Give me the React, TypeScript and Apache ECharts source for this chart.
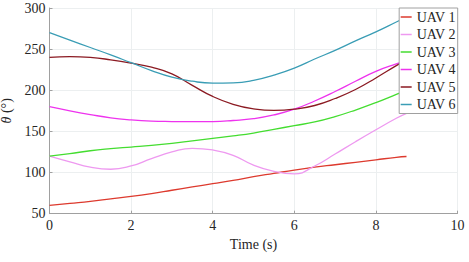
import React, { useEffect, useRef } from "react";
import * as echarts from "echarts";

const time = [0, 0.5, 1, 1.5, 2, 2.5, 3, 3.5, 4, 4.5, 5, 5.5, 6, 6.5, 7, 7.5, 8, 8.5, 8.75];
const uav1 = [60, 62.5, 65, 68, 71, 74.5, 78.5, 82.5, 86.5, 90.5, 95, 99, 103, 106.5, 109.5, 112.5, 115.5, 118.5, 119.5];
const uav2 = [120, 113, 106.5, 104, 108, 117, 125, 129.5, 127.5, 121, 109, 101.5, 98.5, 108, 122.5, 137.5, 152, 166, 172];
const uav3 = [120, 123, 126.5, 129, 131, 133, 135.5, 138.5, 141.5, 144.5, 148, 152.5, 157, 161.5, 168, 176, 185, 195, 200];
const uav4 = [180, 175, 170.5, 166.5, 164, 162.5, 162, 161.8, 162, 163.3, 165.5, 170, 177, 187, 198.5, 211, 223, 232, 236];
const uav5 = [240, 241, 240, 237, 233, 228, 220, 206, 192.5, 183, 177.5, 175.5, 177, 181.5, 190, 201, 215, 230, 237];
const uav6 = [270, 261, 252, 243, 233.5, 224, 216, 211, 208.7, 209, 212, 218.5, 227, 238, 248.5, 260, 271, 283, 289];

const names = ["UAV 1", "UAV 2", "UAV 3", "UAV 4", "UAV 5", "UAV 6"];
const colors = ["#dd3a2e", "#ee99f0", "#44dd30", "#ee33ee", "#8b1a22", "#3a9db5"];
const seriesValues = [uav1, uav2, uav3, uav4, uav5, uav6];

const FONT = "Liberation Serif";

export default function App() {
  const ref = useRef<HTMLDivElement>(null);
  useEffect(() => {
    if (!ref.current) return;
    const chart = echarts.init(ref.current, null, { renderer: "svg" });
    chart.setOption({
      animation: false,
      backgroundColor: "#ffffff",
      textStyle: { fontFamily: FONT },
      grid: { left: 49.5, top: 8, right: 11.5, bottom: 48.3, containLabel: false, outerBoundsMode: "none" },
      legend: {
        orient: "vertical",
        right: 11.3,
        top: 8,
        data: names,
        icon: "rect",
        itemWidth: 11,
        itemHeight: 1.5,
        itemGap: 2.5,
        padding: [1.5, 2, 1.5, 1.5],
        backgroundColor: "#ffffff",
        borderColor: "#a0a0a0",
        borderWidth: 1,
        borderRadius: 0,
        textStyle: { fontFamily: FONT, fontSize: 14, color: "#262626", lineHeight: 15 },
      },
      xAxis: {
        type: "value",
        min: 0,
        max: 10,
        interval: 2,
        name: "Time (s)",
        nameLocation: "middle",
        nameGap: 22,
        nameTextStyle: { fontFamily: FONT, fontSize: 14, color: "#262626" },
        axisLine: { show: true, lineStyle: { color: "#a0a0a0", width: 1 } },
        axisTick: { show: true, inside: true, length: 3, lineStyle: { color: "#a0a0a0" } },
        axisLabel: { fontFamily: FONT, fontSize: 14, color: "#262626", margin: 5 },
        splitLine: { show: true, lineStyle: { color: "#eceff0", width: 1 } },
      },
      yAxis: {
        type: "value",
        min: 50,
        max: 300,
        interval: 50,
        name: "{it|θ} (°)",
        nameLocation: "middle",
        nameRotate: 90,
        nameGap: 26,
        nameTextStyle: {
          fontFamily: FONT,
          fontSize: 14,
          color: "#262626",
          rich: { it: { fontFamily: FONT, fontSize: 14, fontStyle: "italic", color: "#262626" } },
        },
        axisLine: { show: true, lineStyle: { color: "#a0a0a0", width: 1 } },
        axisTick: { show: true, inside: true, length: 3, lineStyle: { color: "#a0a0a0" } },
        axisLabel: { fontFamily: FONT, fontSize: 14, color: "#262626", margin: 4 },
        splitLine: { show: true, lineStyle: { color: "#eceff0", width: 1 } },
      },
      series: names.map((n, i) => ({
        name: n,
        type: "line",
        smooth: true,
        showSymbol: false,
        symbol: "none",
        lineStyle: { color: colors[i], width: 1.3 },
        itemStyle: { color: colors[i] },
        data: time.map((t, j) => [t, seriesValues[i][j]]),
      })),
    });
    return () => chart.dispose();
  }, []);
  return (
    <div
      ref={ref}
      style={{ position: "fixed", left: 0, top: 0, width: 469, height: 262 }}
    />
  );
}
